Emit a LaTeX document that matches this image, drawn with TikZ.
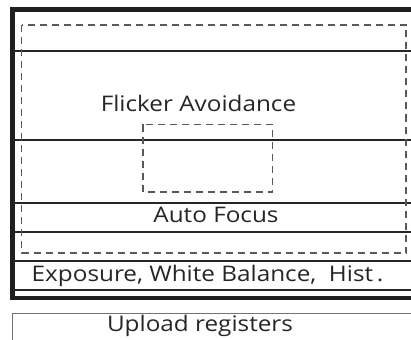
\documentclass[tikz,border=0pt]{standalone}
\usepackage{fontspec}
\setmainfont{Open Sans}[FakeStretch=1.13]

\tikzset{
	frame/.style={line width=4.5pt, color=black!88},
	sep/.style={line width=2pt, color=black!85},
	dashbox/.style={line width=1.2pt, color=black!65, dash pattern=on 7pt off 5pt},
	label/.style={font=\fontsize{21.5}{24}\selectfont, text=black!85, inner sep=0pt, anchor=base}
}

\begin{document}
\begin{tikzpicture}[x=1pt, y=-1pt]
					\useasboundingbox (0,0) rectangle (411,339);
					\clip (0,0) rectangle (411,339);

					\draw[frame] (420,9.5) -- (12.5,9.5) -- (12.5,298) -- (420,298);
					\foreach \y in {51.5, 139.5, 203, 232, 260.5, 289.5}
						\draw[sep] (12.5,\y) -- (420,\y);

					\draw[dashbox] (21.5,25) rectangle (406,253);
					\draw[dashbox] (143,124.5) rectangle (272.5,192);

					\draw[line width=0.9pt, color=black!55] (12.5,345) -- (12.5,313) -- (420,313);

					\node[label] (flicker) at (198.5,111.7) {Flicker Avoidance};
					\node[label] (focus) at (216,222.5) {Auto Focus};
					\node[label] (expo) at (207.5,281) {Exposure, White Balance,\ \ Hist\,.};
					\node[label] (upload) at (200,331.5) {Upload registers};
				\end{tikzpicture}
\end{document}
